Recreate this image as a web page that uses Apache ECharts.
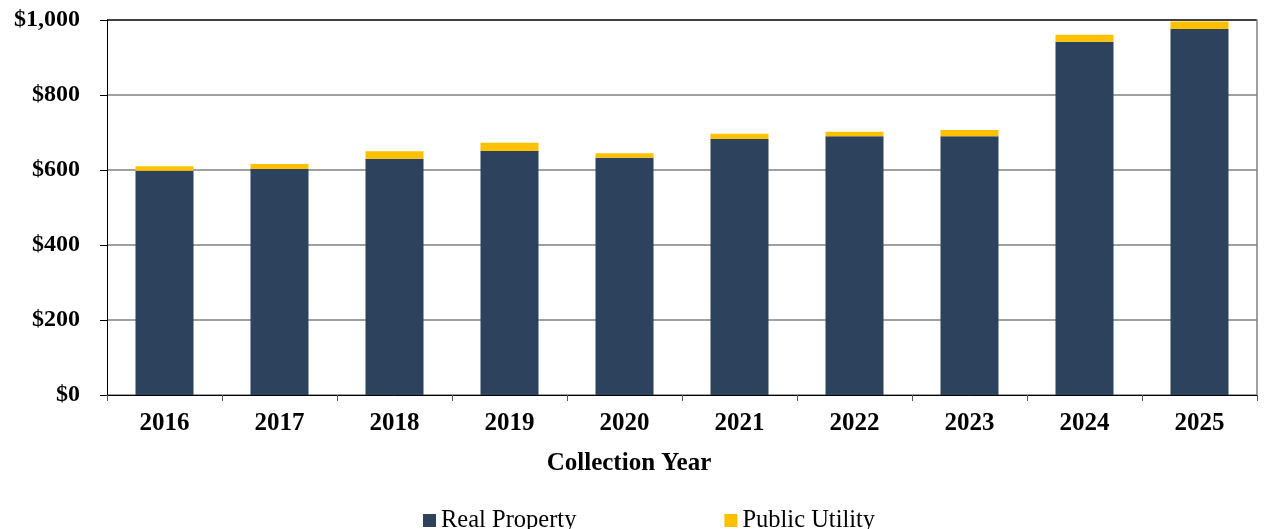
<!DOCTYPE html>
<html>
<head>
<meta charset="utf-8">
<script src="https://cdn.jsdelivr.net/npm/echarts@6/dist/echarts.min.js"></script>
<style>
  html, body { margin: 0; padding: 0; background: #fff; }
  #chart { width: 1268px; height: 529px; }
</style>
</head>
<body>
<div id="chart"></div>
<script>
// Collection years and assessed values (in dollars, millions)
const years = ['2016', '2017', '2018', '2019', '2020', '2021', '2022', '2023', '2024', '2025'];
const realProperty = [598, 603, 630, 651, 633, 683, 690, 690, 942, 976];
const publicUtility = [12, 13, 20, 22, 12, 14, 12, 17, 19, 20];
const yTicks = [0, 200, 400, 600, 800, 1000];

const FONT = '"Liberation Serif", "Times New Roman", serif';
const chart = echarts.init(document.getElementById('chart'));

chart.setOption({
  animation: false,
  grid: { left: 107, right: 11, top: 20, bottom: 134 },
  legend: {
    left: 418,
    top: 503,
    itemWidth: 13,
    itemHeight: 13,
    itemGap: 148,
    textStyle: { fontFamily: FONT, fontSize: 24.5, color: '#000' },
    data: [
      { name: 'Real Property', icon: 'rect' },
      { name: 'Public Utility', icon: 'rect' }
    ]
  },
  xAxis: {
    type: 'category',
    data: years,
    name: 'Collection Year',
    nameLocation: 'middle',
    nameGap: 56,
    nameTextStyle: {
      fontFamily: FONT, fontSize: 25, fontWeight: 'bold', color: '#000',
      padding: [0, 106, 0, 0]
    },
    axisLine: { lineStyle: { color: '#000', width: 1 } },
    axisTick: { show: true, length: 6, lineStyle: { color: '#555' } },
    axisLabel: { fontFamily: FONT, fontSize: 25, fontWeight: 'bold', color: '#000', margin: 16 }
  },
  yAxis: [
    {
      type: 'value',
      min: yTicks[0],
      max: yTicks[yTicks.length - 1],
      interval: 200,
      axisLine: { show: true, lineStyle: { color: '#000', width: 1 } },
      axisTick: { show: true, inside: false, length: 7, lineStyle: { color: '#000' } },
      axisLabel: {
        fontFamily: FONT, fontSize: 24, fontWeight: 'bold', color: '#000', margin: 27,
        formatter: v => '$' + v.toLocaleString('en-US')
      },
      splitLine: {
        show: true,
        lineStyle: { color: ['#808080', '#808080', '#808080', '#808080', '#808080', '#000'], width: 1.5 }
      }
    },
    {
      type: 'value',
      position: 'right',
      min: 0,
      max: 1000,
      interval: 200,
      axisLine: { show: true, lineStyle: { color: '#808080', width: 1.5 } },
      axisTick: { show: false },
      axisLabel: { show: false },
      splitLine: { show: false }
    }
  ],
  series: [
    {
      name: 'Real Property',
      type: 'bar',
      stack: 'total',
      barWidth: 58,
      data: realProperty,
      itemStyle: { color: '#2D425D' }
    },
    {
      name: 'Public Utility',
      type: 'bar',
      stack: 'total',
      barWidth: 58,
      data: publicUtility,
      itemStyle: { color: '#FFC000' }
    }
  ]
});
</script>
</body>
</html>
